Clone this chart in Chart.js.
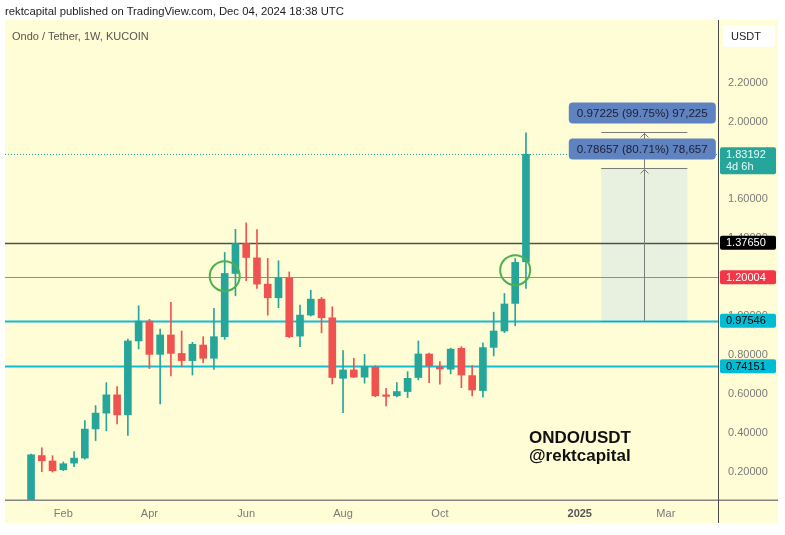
<!DOCTYPE html>
<html>
<head>
<meta charset="utf-8">
<script src="https://cdn.jsdelivr.net/npm/chart.js@4.4.1/dist/chart.umd.min.js"></script>
<style>
  html, body { margin: 0; padding: 0; background: #fff; }
  #wrap { position: relative; width: 785px; height: 535px; overflow: hidden; font-family: "Liberation Sans", Arial, sans-serif; }
  #wrap canvas { position: absolute; left: 0; top: 0; }
  #head { position: absolute; left: 5px; top: 5px; font-size: 11.3px; color: #1e1e1e; white-space: nowrap; }
  #title { position: absolute; left: 12px; top: 30px; font-size: 11px; color: #555; white-space: nowrap; z-index: 2; }
  #mark { position: absolute; left: 529px; top: 429px; font-size: 17px; font-weight: bold; line-height: 18px; color: #111; z-index: 2; }
</style>
</head>
<body>
<div id="wrap">
  <canvas id="chart" width="785" height="535"></canvas>
  <div id="head">rektcapital published on TradingView.com, Dec 04, 2024 18:38 UTC</div>
  <div id="title">Ondo / Tether, 1W, KUCOIN</div>
  <div id="mark">ONDO/USDT<br>@rektcapital</div>
</div>
<script>
// weekly candles, first week starts 2024-01-15
const opens  = [0.030, 0.283, 0.255, 0.210, 0.244, 0.270, 0.420, 0.501, 0.595, 0.492,
                0.872, 0.974, 0.803, 0.903, 0.808, 0.771, 0.851, 0.783, 0.894, 1.219,
                1.373, 1.299, 1.164, 1.094, 1.196, 0.897, 1.005, 1.087, 0.991, 0.680,
                0.723, 0.686, 0.737, 0.595, 0.590, 0.612, 0.684, 0.805, 0.738, 0.727,
                0.834, 0.694, 0.617, 0.839, 0.923, 1.065, 1.279];
const highs  = [0.290, 0.323, 0.282, 0.250, 0.304, 0.463, 0.540, 0.658, 0.637, 0.882,
                1.053, 0.983, 0.933, 1.070, 0.923, 0.865, 0.894, 1.040, 1.327, 1.446,
                1.479, 1.444, 1.296, 1.284, 1.227, 1.056, 1.133, 1.096, 1.048, 0.822,
                0.783, 0.803, 0.745, 0.629, 0.658, 0.714, 0.872, 0.810, 0.766, 0.835,
                0.843, 0.745, 0.863, 1.020, 1.116, 1.296, 1.942];
const lows   = [0.020, 0.200, 0.198, 0.205, 0.226, 0.265, 0.360, 0.410, 0.446, 0.386,
                0.831, 0.730, 0.549, 0.692, 0.740, 0.697, 0.760, 0.726, 0.880, 1.104,
                1.182, 1.142, 1.005, 1.043, 0.889, 0.843, 1.000, 0.914, 0.651, 0.504,
                0.684, 0.655, 0.585, 0.538, 0.584, 0.581, 0.672, 0.658, 0.650, 0.703,
                0.632, 0.590, 0.583, 0.795, 0.915, 0.950, 1.142];
const closes = [0.287, 0.256, 0.205, 0.241, 0.270, 0.419, 0.501, 0.595, 0.492, 0.872,
                0.974, 0.803, 0.903, 0.808, 0.771, 0.855, 0.783, 0.894, 1.219, 1.373,
                1.301, 1.164, 1.094, 1.196, 0.894, 1.005, 1.087, 0.991, 0.684, 0.723,
                0.686, 0.740, 0.590, 0.587, 0.612, 0.680, 0.805, 0.745, 0.728, 0.830,
                0.697, 0.620, 0.838, 0.923, 1.062, 1.276, 1.83192];

const xTickWeeks  = [3, 11, 20, 29, 38, 51, 59];
const xTickLabels = ['Feb', 'Apr', 'Jun', 'Aug', 'Oct', '2025', 'Mar'];
const yTicks = [0.2, 0.4, 0.6, 0.8, 1.0, 1.2, 1.4, 1.6, 1.8, 2.0, 2.2];

const levels = [1.37650, 1.20004, 0.97546, 0.74151];
const lastPrice = 1.83192;
const countdown = '4d 6h';

const measureBase = 0.97546;
const measureMoves = [0.78657, 0.97225];
const measurePcts = ['80.71%', '99.75%'];
const measureTicks = ['78,657', '97,225'];
const measureWeeks = [53, 61];

const circleWeeks = [18, 45];
const circleValues = [1.205, 1.236];

const UP = '#26a69a', DOWN = '#ef5350';
const FONT = "'Liberation Sans', Arial, sans-serif";

const candleColors = closes.map((c, i) => c >= opens[i] ? UP : DOWN);
const bodies = closes.map((c, i) => ({ x: i, y: [opens[i], c] }));
const wicks = closes.map((c, i) => ({ x: i, y: [lows[i], highs[i]] }));

function isYearTick(ctx) {
  return !!(ctx.tick && xTickLabels[xTickWeeks.indexOf(ctx.tick.value)] === '2025');
}

function roundRect(ctx, x, y, w, h, r) {
  ctx.beginPath();
  ctx.moveTo(x + r, y);
  ctx.arcTo(x + w, y, x + w, y + h, r);
  ctx.arcTo(x + w, y + h, x, y + h, r);
  ctx.arcTo(x, y + h, x, y, r);
  ctx.arcTo(x, y, x + w, y, r);
  ctx.closePath();
}

const levelStyle = [
  { line: '#4f4f4f', width: 1.5, box: '#000000', text: '#ffffff' },
  { line: '#f26464', width: 1.2, box: '#f23645', text: '#ffffff' },
  { line: '#12bcd4', width: 2, box: '#00bcd4', text: '#000000' },
  { line: '#12bcd4', width: 2, box: '#00bcd4', text: '#000000' }
];

const tvPlugin = {
  id: 'tv',
  beforeDraw(chart) {
    const ctx = chart.ctx;
    ctx.save();
    ctx.fillStyle = '#fffdd6';
    ctx.fillRect(5, 20, 773, 503);
    ctx.restore();
  },
  beforeDatasetsDraw(chart) {
    const { ctx, chartArea: a, scales: { x, y } } = chart;
    ctx.save();
    ctx.beginPath();
    ctx.rect(a.left, a.top, a.right - a.left, a.bottom - a.top);
    ctx.clip();
    // measurement area fill
    const mx0 = x.getPixelForValue(measureWeeks[0]);
    const mx1 = x.getPixelForValue(measureWeeks[1]);
    const myB = y.getPixelForValue(measureBase);
    const myT = y.getPixelForValue(measureBase + measureMoves[0]);
    ctx.fillStyle = 'rgba(200,225,235,0.42)';
    ctx.fillRect(mx0, myT, mx1 - mx0, myB - myT);
    // horizontal levels
    levels.forEach((v, k) => {
      const py = Math.round(y.getPixelForValue(v)) + 0.5;
      ctx.strokeStyle = levelStyle[k].line;
      ctx.lineWidth = levelStyle[k].width;
      ctx.beginPath();
      ctx.moveTo(a.left, py);
      ctx.lineTo(a.right, py);
      ctx.stroke();
    });
    // last price dotted line
    const lp = Math.round(y.getPixelForValue(lastPrice)) + 0.5;
    ctx.strokeStyle = UP;
    ctx.lineWidth = 1;
    ctx.setLineDash([1, 2]);
    ctx.beginPath();
    ctx.moveTo(a.left, lp);
    ctx.lineTo(a.right, lp);
    ctx.stroke();
    ctx.restore();
  },
  afterDatasetsDraw(chart) {
    const { ctx, scales: { x, y } } = chart;
    ctx.save();
    // measurement lines
    const mx0 = x.getPixelForValue(measureWeeks[0]);
    const mx1 = x.getPixelForValue(measureWeeks[1]);
    const mxc = Math.round((mx0 + mx1) / 2) + 0.5;
    const myB = y.getPixelForValue(measureBase);
    ctx.strokeStyle = '#7b7b7b';
    ctx.lineWidth = 1;
    ctx.beginPath();
    ctx.moveTo(mx0, Math.round(myB) + 0.5);
    ctx.lineTo(mx1, Math.round(myB) + 0.5);
    ctx.stroke();
    const topY = measureMoves.map(m => Math.round(y.getPixelForValue(measureBase + m)) + 0.5);
    ctx.beginPath();
    ctx.moveTo(mxc, myB);
    ctx.lineTo(mxc, Math.min(...topY));
    ctx.stroke();
    topY.forEach((ty, k) => {
      ctx.strokeStyle = '#7b7b7b';
      ctx.beginPath();
      ctx.moveTo(mx0, ty);
      ctx.lineTo(mx1, ty);
      ctx.stroke();
      ctx.beginPath();
      ctx.moveTo(mxc - 4, ty + 5);
      ctx.lineTo(mxc, ty + 1);
      ctx.lineTo(mxc + 4, ty + 5);
      ctx.stroke();
      // label box
      const bw = 147, bh = 21;
      const bx = (mx0 + mx1) / 2 - 2 - bw / 2;
      const by = ty - 9 - bh;
      ctx.fillStyle = '#5f82c0';
      roundRect(ctx, bx, by, bw, bh, 4);
      ctx.fill();
      ctx.fillStyle = '#1c1f33';
      ctx.font = '11.6px ' + FONT;
      ctx.textAlign = 'center';
      ctx.textBaseline = 'middle';
      ctx.fillText(measureMoves[k].toFixed(5) + ' (' + measurePcts[k] + ') ' + measureTicks[k], bx + bw / 2, by + bh / 2 + 0.5);
    });
    // circles
    ctx.strokeStyle = '#4caf50';
    ctx.lineWidth = 2;
    circleWeeks.forEach((w, k) => {
      ctx.beginPath();
      ctx.arc(x.getPixelForValue(w), y.getPixelForValue(circleValues[k]), 15, 0, Math.PI * 2);
      ctx.stroke();
    });
    ctx.restore();
  },
  afterDraw(chart) {
    const { ctx, scales: { y } } = chart;
    ctx.save();
    // axis lines
    ctx.strokeStyle = '#858585';
    ctx.lineWidth = 1.5;
    ctx.beginPath();
    ctx.moveTo(5, 500.25);
    ctx.lineTo(778, 500.25);
    ctx.stroke();
    ctx.strokeStyle = '#4a4a4a';
    ctx.lineWidth = 1;
    ctx.beginPath();
    ctx.moveTo(718.5, 20);
    ctx.lineTo(718.5, 523);
    ctx.stroke();
    ctx.font = '11px ' + FONT;
    ctx.textBaseline = 'middle';
    ctx.textAlign = 'left';
    // level price boxes
    levels.forEach((v, k) => {
      const py = y.getPixelForValue(v);
      ctx.fillStyle = levelStyle[k].box;
      roundRect(ctx, 720, py - 7, 56, 14, 2);
      ctx.fill();
      ctx.fillStyle = levelStyle[k].text;
      ctx.fillText(v.toFixed(5), 726, py + 0.5);
    });
    // last price box
    const lp = y.getPixelForValue(lastPrice);
    ctx.fillStyle = UP;
    roundRect(ctx, 720, lp - 7, 56, 27, 2);
    ctx.fill();
    ctx.fillStyle = '#e8fbf7';
    ctx.fillText(lastPrice.toFixed(5), 726, lp + 0.5);
    ctx.fillText(countdown, 726, lp + 12.5);
    // currency box
    ctx.fillStyle = '#ffffff';
    roundRect(ctx, 723, 25, 52, 22, 4);
    ctx.fill();
    ctx.fillStyle = '#222';
    ctx.fillText('USDT', 731, 36.5);
    ctx.restore();
  }
};

new Chart(document.getElementById('chart'), {
  type: 'bar',
  data: {
    datasets: [
      { data: wicks, backgroundColor: candleColors, borderWidth: 0, barThickness: 1, grouped: false, order: 2 },
      { data: bodies, backgroundColor: candleColors, borderWidth: 0, barThickness: 7, grouped: false, minBarLength: 1, order: 1 }
    ]
  },
  options: {
    responsive: false,
    animation: false,
    events: [],
    layout: { padding: { left: 5, top: 20, right: 7, bottom: 12 } },
    plugins: { legend: { display: false }, tooltip: { enabled: false } },
    scales: {
      x: {
        type: 'linear',
        min: -2.42,
        max: 63.85,
        offset: false,
        grid: { display: false, drawTicks: false },
        border: { display: false },
        afterBuildTicks: s => { s.ticks = xTickWeeks.map(v => ({ value: v })); },
        afterFit: s => { s.height = 23; },
        ticks: {
          autoSkip: false,
          maxRotation: 0,
          padding: 7,
          color: ctx => isYearTick(ctx) ? '#555' : '#7a7a7a',
          font: ctx => ({ family: FONT, size: 11, weight: isYearTick(ctx) ? 'bold' : 'normal' }),
          callback: v => xTickLabels[xTickWeeks.indexOf(v)]
        }
      },
      y: {
        position: 'right',
        min: 0.0545,
        max: 2.5218,
        grid: { display: false, drawTicks: false },
        border: { display: false },
        afterBuildTicks: s => { s.ticks = yTicks.map(v => ({ value: v })); },
        afterFit: s => { s.width = 60; },
        ticks: {
          padding: 10,
          color: '#7a7a7a',
          font: { family: FONT, size: 11 },
          callback: v => v.toFixed(5)
        }
      }
    }
  },
  plugins: [tvPlugin]
});
</script>
</body>
</html>
